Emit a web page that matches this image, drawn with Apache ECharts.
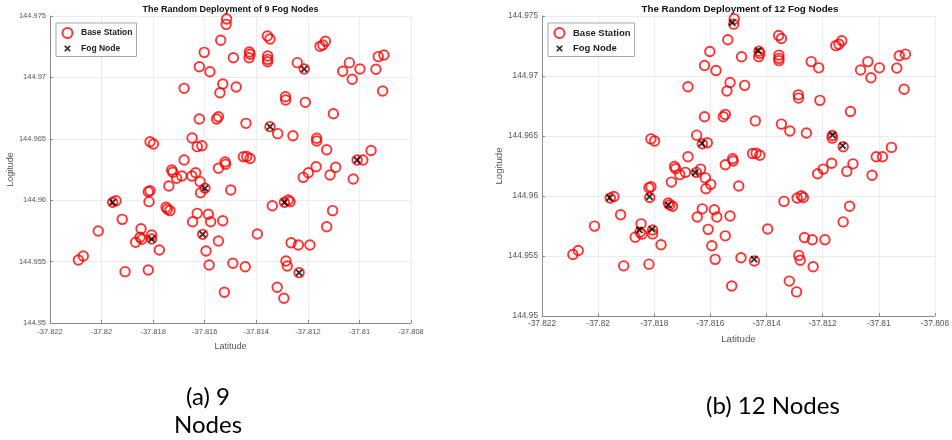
<!DOCTYPE html>
<html><head><meta charset="utf-8">
<script src="https://cdn.jsdelivr.net/npm/echarts@6/dist/echarts.min.js"></script>
<style>html,body{margin:0;padding:0;background:#fff}#c{width:952px;height:440px}</style>
</head><body><div id="c"></div>
<script>
// Base stations (same in both panels)
const baseLat = [
-37.81515,-37.81517,-37.81538,-37.81602,-37.81621,-37.81580,-37.81680,-37.81530,-37.81541,-37.81478,
-37.81489,-37.81427,-37.81424,-37.81428,-37.81357,-37.81347,-37.81356,-37.81356,-37.81356,-37.81241,
-37.81214,-37.81153,-37.81142,-37.81132,-37.81039,-37.81065,-37.80998,-37.81028,-37.80927,-37.80905,
-37.80936,-37.80910,-37.81287,-37.81286,-37.81210,-37.81101,-37.81621,-37.81554,-37.81547,-37.81440,
-37.81347,-37.81317,-37.81258,-37.81166,-37.81166,-37.81127,-37.81649,-37.81629,-37.81611,-37.81680,
-37.81450,-37.81437,-37.81424,-37.81521,-37.81009,-37.80987,-37.80955,-37.81812,-37.81799,-37.81689,
-37.81650,-37.81635,-37.81618,-37.81599,-37.81616,-37.81547,-37.81519,-37.81499,-37.81218,-37.81198,
-37.81168,-37.81114,-37.81092,-37.81024,-37.81338,-37.81291,-37.81276,-37.81269,-37.81104,-37.81127,
-37.81629,-37.81647,-37.81586,-37.81577,-37.81530,-37.81608,-37.81547,-37.81396,-37.81595,-37.81583,
-37.81491,-37.81443,-37.81265,-37.81237,-37.81192,-37.81285,-37.81280,-37.81234,-37.81524,-37.81319,
-37.81293,-37.81728,-37.81724,-37.81709,-37.81739,-37.81819,-37.81812,-37.81816,-37.81750,-37.81745,
-37.81735,-37.81957,-37.81944,-37.81920,-37.82013,-37.81847,-37.81851,-37.81844,-37.81868,-37.81806,
-37.81806,-37.81776,-37.82071,-37.82090,-37.81909,-37.81819
];
const baseLon = [
144.97476,144.97432,144.97302,144.97204,144.97087,144.97046,144.96911,144.96946,144.96875,144.96922,
144.97160,144.97207,144.97188,144.97160,144.97337,144.97313,144.97174,144.97147,144.97128,144.97120,
144.97068,144.97253,144.97264,144.97294,144.97120,144.97050,144.97068,144.96985,144.97169,144.97182,
144.97066,144.96889,144.96843,144.96816,144.96797,144.96704,144.96661,144.96661,144.96680,144.96626,
144.96599,144.96542,144.96525,144.96504,144.96482,144.96411,144.96507,144.96436,144.96444,144.96327,
144.96354,144.96356,144.96340,144.96311,144.96327,144.96327,144.96405,144.96476,144.96458,144.96197,
144.96197,144.96224,144.96151,144.96097,144.96061,144.96260,144.96292,144.96083,144.96186,144.96224,
144.96273,144.96205,144.96268,144.96173,144.95955,144.95983,144.96002,144.95988,144.95915,144.95784,
144.95893,144.95825,144.95885,144.95825,144.95833,144.95722,144.95668,144.95725,144.95586,144.95472,
144.95486,144.95458,144.95654,144.95635,144.95635,144.95505,144.95464,144.95410,144.95250,144.95291,
144.95201,144.96246,144.96227,144.96178,144.96116,144.96069,144.96077,144.95988,144.95942,144.95926,
144.95915,144.95983,144.95996,144.95844,144.95749,144.95768,144.95698,144.95682,144.95657,144.95717,
144.95684,144.95594,144.95546,144.95513,144.95418,144.95432
];
// Fog nodes, panel (a): 9 nodes
const fog9Lat = [-37.81214,-37.81347,-37.81009,-37.81599,-37.81291,-37.81608,-37.81234,-37.81957,-37.81806];
const fog9Lon = [144.97068,144.96599,144.96327,144.96097,144.95983,144.95722,144.95410,144.95983,144.95684];
// Fog nodes, panel (b): 12 nodes
const fog12Lat = [-37.81522,-37.81430,-37.81165,-37.81129,-37.81630,-37.81959,-37.81817,-37.81750,-37.81853,-37.81808,-37.81654,-37.81444];
const fog12Lon = [144.97444,144.97211,144.96508,144.96419,144.96439,144.95986,144.95994,144.95925,144.95717,144.95723,144.96194,144.95473];

const latTicks = [-37.822,-37.820,-37.818,-37.816,-37.814,-37.812,-37.810,-37.808];
const lonTicks = [144.950,144.955,144.960,144.965,144.970,144.975];

const titles = ['The Random Deployment of 9 Fog Nodes','The Random Deployment of 12 Fog Nodes'];
const captions = ['(a) 9\nNodes','(b) 12 Nodes'];
const seriesNames = ['Base Station','Fog Node'];
const xName = 'Latitude', yName = 'Logitude';

const zip = (a,b) => a.map((v,i)=>[v,b[i]]);
const X_PATH = 'path://M0,1.8L1.8,0L5,3.2L8.2,0L10,1.8L6.8,5L10,8.2L8.2,10L5,6.8L1.8,10L0,8.2L3.2,5Z';
const X_ICON = 'path://M-2.5,-2.5M12.5,12.5M0,1.8L1.8,0L5,3.2L8.2,0L10,1.8L6.8,5L10,8.2L8.2,10L5,6.8L1.8,10L0,8.2L3.2,5Z';
const fmt = v => String(+(+v).toFixed(3));

const panels = [
  {grid:{left:50,top:16,width:361,height:307}, fs:7.5, nameFs:9, nameGapY:32, nameGapX:19, lblMarginX:5, lblMarginY:4,
   legend:{left:56,top:23,fs:8.5}, fogLat:fog9Lat, fogLon:fog9Lon},
  {grid:{left:542,top:16,width:395,height:300}, fs:8.3, nameFs:9.7, nameGapY:35, nameGapX:18, lblMarginX:4, lblMarginY:4,
   legend:{left:548,top:23,fs:9.5}, fogLat:fog12Lat, fogLon:fog12Lon}
];

const axisCommon = (fs) => ({
  axisLine:{show:true,onZero:false,lineStyle:{color:'#8a8a8a',width:1}},
  axisTick:{show:true,inside:true,length:3,lineStyle:{color:'#8a8a8a'}},
  splitLine:{show:true,lineStyle:{color:'#ececec',width:1}},
  axisLabel:{color:'#555',fontSize:fs,fontFamily:'Liberation Sans',formatter:fmt}
});

const option = {
  animation:false,
  backgroundColor:'#fff',
  grid: panels.map(p=>p.grid),
  xAxis: panels.map((p,i)=>{
    const a = axisCommon(p.fs);
    a.axisLabel.margin = p.lblMarginX;
    return Object.assign(a,{type:'value',gridIndex:i,min:latTicks[0],max:latTicks[latTicks.length-1],
      interval:+(latTicks[1]-latTicks[0]).toFixed(3),name:xName,nameLocation:'middle',nameGap:p.nameGapX,
      nameTextStyle:{color:'#555',fontSize:p.nameFs,fontFamily:'Liberation Sans'}});
  }),
  yAxis: panels.map((p,i)=>{
    const a = axisCommon(p.fs);
    a.axisLabel.margin = p.lblMarginY;
    return Object.assign(a,{type:'value',gridIndex:i,min:lonTicks[0],max:lonTicks[lonTicks.length-1],
      interval:+(lonTicks[1]-lonTicks[0]).toFixed(3),name:yName,nameLocation:'middle',nameGap:p.nameGapY,
      nameTextStyle:{color:'#555',fontSize:p.nameFs,fontFamily:'Liberation Sans'}});
  }),
  legend: panels.map(p=>({
    orient:'vertical', left:p.legend.left, top:p.legend.top,
    backgroundColor:'#fff', borderColor:'#a8a8a8', borderWidth:1,
    padding:[4,4,3,5.5], itemWidth:17, itemHeight:10, itemGap:4.5,
    selectedMode:false,
    textStyle:{color:'#222',fontSize:p.legend.fs,fontWeight:'bold',fontFamily:'Liberation Sans'},
    data:[{name:seriesNames[0]},{name:seriesNames[1],icon:X_ICON}]
  })),
  series: [].concat(...panels.map((p,i)=>[
    {type:'scatter',name:seriesNames[0],xAxisIndex:i,yAxisIndex:i,data:zip(baseLat,baseLon),
     symbol:'circle',symbolSize:9.5,silent:true,z:2,
     itemStyle:{color:'rgba(255,255,255,0)',borderColor:'#ff0000',borderWidth:1.9}},
    {type:'scatter',name:seriesNames[1],xAxisIndex:i,yAxisIndex:i,data:zip(p.fogLat,p.fogLon),
     symbol:X_PATH,symbolSize:7.5,symbolKeepAspect:true,silent:true,z:3,
     itemStyle:{color:'#000'}}
  ])),
  graphic: [
    {type:'text',x:230.5,y:10,style:{text:titles[0],fill:'#111',font:'bold 9px "Liberation Sans"',align:'center',verticalAlign:'middle',textAlign:'center',textVerticalAlign:'middle'}},
    {type:'text',x:740,y:9,style:{text:titles[1],fill:'#111',font:'bold 9.8px "Liberation Sans"',align:'center',verticalAlign:'middle',textAlign:'center',textVerticalAlign:'middle'}},
    {type:'text',x:208,y:411,style:{text:captions[0],fill:'#000',font:'24px Lato',lineHeight:28,align:'center',verticalAlign:'middle',textAlign:'center',textVerticalAlign:'middle'}},
    {type:'text',x:773,y:406,style:{text:captions[1],fill:'#000',font:'24px Lato',align:'center',verticalAlign:'middle',textAlign:'center',textVerticalAlign:'middle'}}
  ]
};
echarts.init(document.getElementById('c'),null,{renderer:'canvas'}).setOption(option);
</script>
</body></html>
